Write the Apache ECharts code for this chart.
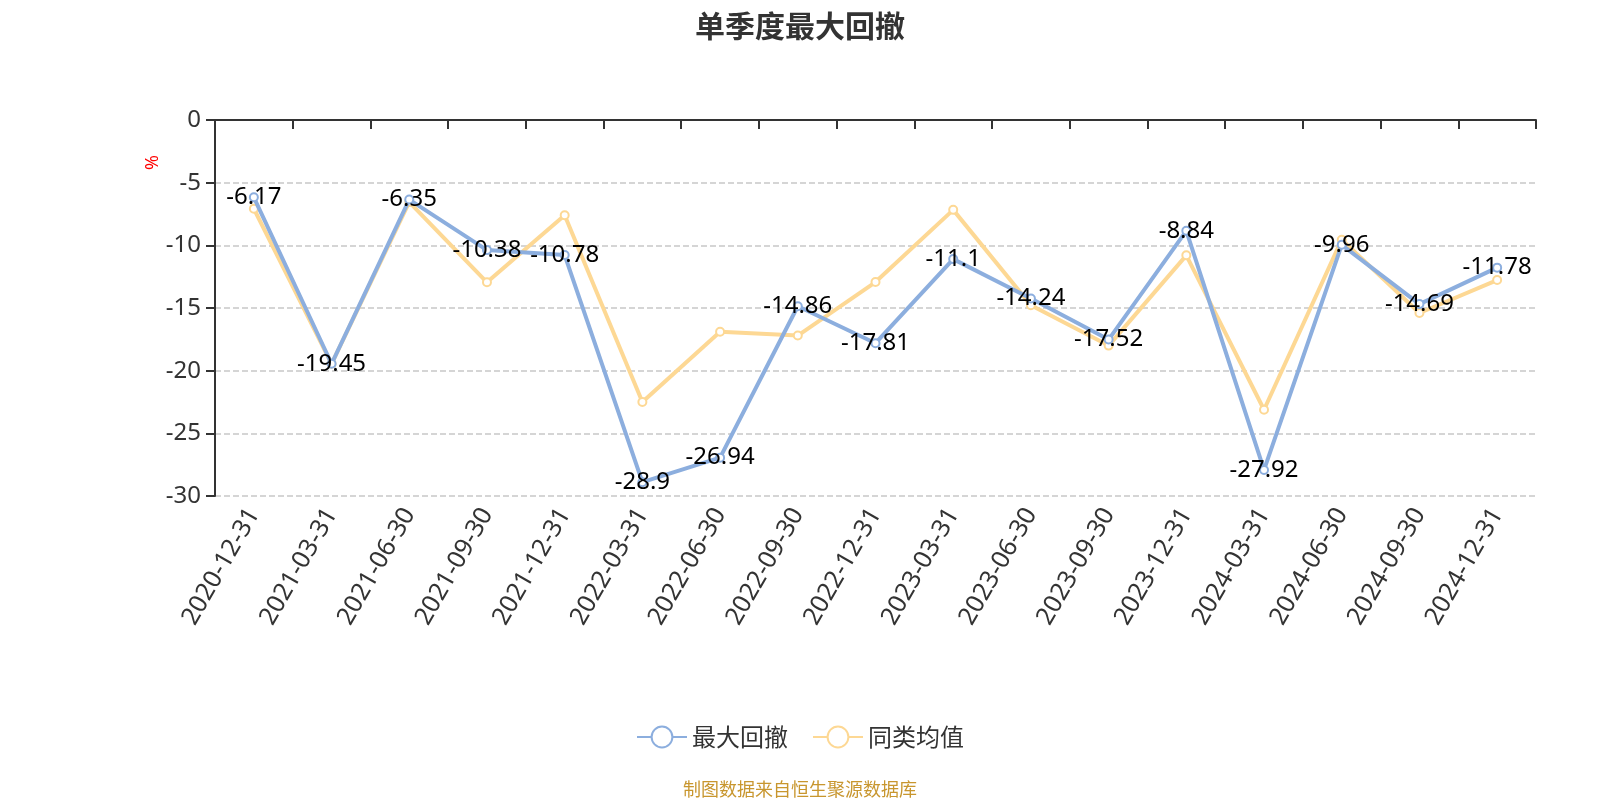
<!DOCTYPE html>
<html>
<head>
<meta charset="utf-8">
<script src="https://cdn.jsdelivr.net/npm/echarts@6/dist/echarts.min.js"></script>
<style>
html,body{margin:0;padding:0;background:#fff;overflow:hidden;}
#main{width:1600px;height:800px;}
</style>
</head>
<body>
<div id="main"></div>
<script>
var categories = ['2020-12-31','2021-03-31','2021-06-30','2021-09-30','2021-12-31','2022-03-31','2022-06-30','2022-09-30','2022-12-31','2023-03-31','2023-06-30','2023-09-30','2023-12-31','2024-03-31','2024-06-30','2024-09-30','2024-12-31'];
var maxDrawdown = [-6.17,-19.45,-6.35,-10.38,-10.78,-28.9,-26.94,-14.86,-17.81,-11.1,-14.24,-17.52,-8.84,-27.92,-9.96,-14.69,-11.78];
var peerAverage = [-7.08,-19.45,-6.55,-12.95,-7.6,-22.5,-16.9,-17.2,-12.93,-7.17,-14.78,-18.0,-10.8,-23.12,-9.55,-15.4,-12.77];
var yTicks = {min:-30, max:0, interval:5};

var chart = echarts.init(document.getElementById('main'));
var font = '"Noto Sans","Noto Sans CJK SC",sans-serif';
var cjkFont = '"Noto Sans CJK SC","Noto Sans",sans-serif';
chart.setOption({
  backgroundColor:'#fff',
  textStyle:{fontFamily:font},
  title:{text:'单季度最大回撤',left:'center',top:6,textStyle:{fontSize:30,fontWeight:'bold',color:'#333',fontFamily:cjkFont}},
  legend:{top:720,left:'center',itemWidth:50,itemHeight:26,itemGap:24,textStyle:{fontSize:24,color:'#333',fontFamily:cjkFont},data:['最大回撤','同类均值']},
  graphic:[
    {type:'text',left:'center',top:780,style:{text:'制图数据来自恒生聚源数据库',fill:'#c8962e',font:'18px '+cjkFont}},
    {type:'text',x:144,y:170,rotation:Math.PI/2,style:{text:'%',fill:'#ff0000',font:'18px '+font}}
  ],
  grid:{left:215,right:64,top:120,bottom:304},
  xAxis:[
    {type:'category',data:categories,boundaryGap:true,position:'bottom',
     axisLine:{show:false,onZero:false},axisTick:{show:false},
     axisLabel:{rotate:60,fontSize:25,color:'#333',margin:14,interval:0}},
    {type:'category',data:categories,boundaryGap:true,position:'top',
     axisLine:{show:true,onZero:false,lineStyle:{color:'#333',width:2}},
     axisTick:{show:true,inside:true,interval:0,length:9,lineStyle:{color:'#333',width:2}},
     axisLabel:{show:false}}
  ],
  yAxis:{type:'value',min:yTicks.min,max:yTicks.max,interval:yTicks.interval,
    axisLine:{show:true,lineStyle:{color:'#333',width:2}},
    axisTick:{show:true,length:9,lineStyle:{color:'#333',width:2}},
    axisLabel:{fontSize:24,color:'#333',margin:14},
    splitLine:{show:true,lineStyle:{type:'dashed',color:'#c8c8c8',width:1.5}}},
  series:[
    {name:'最大回撤',type:'line',data:maxDrawdown,symbol:'emptyCircle',symbolSize:8,
     itemStyle:{color:'#8caede'},lineStyle:{width:4,color:'#8caede'},z:3,
     label:{show:true,position:'inside',fontSize:24,color:'#000'}},
    {name:'同类均值',type:'line',data:peerAverage,symbol:'emptyCircle',symbolSize:8,
     itemStyle:{color:'#fdd894'},lineStyle:{width:4,color:'#fdd894'},z:2}
  ]
});
</script>
</body>
</html>
